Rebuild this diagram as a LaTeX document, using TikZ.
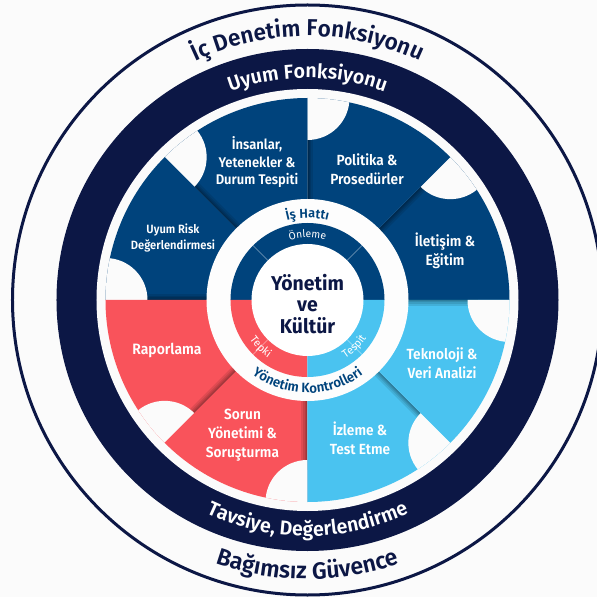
\documentclass[tikz,border=0pt]{standalone}
\usepackage{fontspec}
\usetikzlibrary{decorations.text}
\setmainfont[FakeStretch=0.93,BoldFont={Fira Sans SemiBold}]{Fira Sans}
\newfontfamily\arcfont[FakeStretch=0.98,BoldFont={Fira Sans SemiBold}]{Fira Sans}
\newfontfamily\corefont[FakeStretch=0.97]{Fira Sans}
\definecolor{bgc}{HTML}{FBFBFB}
\definecolor{navy}{HTML}{0C1745}
\definecolor{segblue}{HTML}{00437C}
\definecolor{segred}{HTML}{F9535B}
\definecolor{segsky}{HTML}{4AC3F0}
\tikzset{
  seglabel/.style={text=white,font=\bfseries\fontsize{14.7}{19.3}\selectfont,align=center,inner sep=0pt},
  corelabel/.style={text=navy,font=\corefont\bfseries\fontsize{20}{21.5}\selectfont,align=center,inner sep=0pt}
}
\newcommand{\arclabel}[5]{%
  \path[decorate,decoration={text along path,text align=center,text={|\arcfont #4|#5}}]
    (#2:#1) arc[start angle=#2,end angle=#3,radius=#1];}
\newcommand{\sector}[2]{%
  \begin{scope}
    \clip (0,0) -- (#1:202) arc[start angle=#1,end angle=#1+45,radius=202] -- cycle;
    \fill[#2] (-210,-210) rectangle (210,210);
    \foreach \w in {12,8,5,2.5} {
      \draw[black,opacity=0.10,line width=\w] (#1+45:98) -- (#1+45:170);
    }
    \fill[bgc] (#1+45:202) circle[radius=42];
  \end{scope}}
\begin{document}
\begin{tikzpicture}[x=1pt,y=1pt]
\useasboundingbox (-307.5,-297) rectangle (289.5,300);
\fill[bgc] (-307.5,-297) rectangle (289.5,300);
% rings
\draw[navy,line width=3] (0,0) circle[radius=295];
\fill[navy] (0,0) circle[radius=251];
\fill[bgc] (0,0) circle[radius=211];
% sectors
\sector{0}{segblue}
\sector{45}{segblue}
\sector{90}{segblue}
\sector{135}{segblue}
\sector{180}{segred}
\sector{225}{segred}
\sector{270}{segsky}
\sector{315}{segsky}
% centre
\fill[white!60!bgc] (0,0) circle[radius=101];
\fill[segblue] (-77,0) arc[start angle=180,end angle=0,radius=77] -- cycle;
\fill[segred] (-77,0) arc[start angle=180,end angle=270,radius=77] -- (0,0) -- cycle;
\fill[segsky] (77,0) arc[start angle=0,end angle=-90,radius=77] -- (0,0) -- cycle;
\draw[white,opacity=.5,line width=.4] (45:56) -- (45:77) (135:56) -- (135:77) (225:56) -- (225:77) (315:56) -- (315:77);
\fill[white] (0,0) circle[radius=56];
% curved labels
\arclabel{264}{160}{20}{\color{navy}\bfseries\fontsize{23}{25}\selectfont}{İç Denetim Fonksiyonu}
\arclabel{222}{160}{20}{\color{white}\bfseries\fontsize{20}{22}\selectfont}{Uyum Fonksiyonu}
\arclabel{236}{200}{340}{\color{white}\bfseries\fontsize{20}{22}\selectfont}{Tavsiye, Değerlendirme}
\arclabel{279}{200}{340}{\color{navy}\bfseries\fontsize{23.5}{25}\selectfont}{Bağımsız Güvence}
\arclabel{82}{150}{30}{\color{segblue}\bfseries\fontsize{13}{15}\selectfont}{İş Hattı}
\arclabel{62.5}{150}{30}{\color{white}\fontsize{10.5}{13}\selectfont}{Önleme}
\arclabel{93}{195}{345}{\color{segblue}\bfseries\fontsize{13.5}{16}\selectfont}{Yönetim Kontrolleri}
\arclabel{70}{190}{260}{\color{white}\fontsize{11}{13}\selectfont}{Tepki}
\arclabel{70}{280}{350}{\color{white}\fontsize{11}{13}\selectfont}{Tespit}
% straight labels
\node[corelabel] (core) at (0,-4) {Yönetim\\ve\\Kültür};
\node[seglabel,font=\bfseries\fontsize{14}{17.5}\selectfont] (insan) at (-50.5,137.5) {İnsanlar,\\Yetenekler \&\\Durum Tespiti};
\node[seglabel] (polit) at (59.5,130.5) {Politika \&\\Prosedürler};
\node[seglabel] (ilet) at (137.5,49) {İletişim \&\\Eğitim};
\node[seglabel,font=\bfseries\fontsize{12}{16}\selectfont] (uyum) at (-134.5,62) {Uyum Risk\\Değerlendirmesi};
\node[seglabel,font=\bfseries\fontsize{15}{19}\selectfont] (rapor) at (-140.5,-50) {Raporlama};
\node[seglabel] (sorun) at (-65,-135) {Sorun\\Yönetimi \&\\Soruşturma};
\node[seglabel] (izle) at (52.5,-138) {İzleme \&\\Test Etme};
\node[seglabel] (tekno) at (134.5,-63.5) {Teknoloji \&\\Veri Analizi};
\end{tikzpicture}
\end{document}
